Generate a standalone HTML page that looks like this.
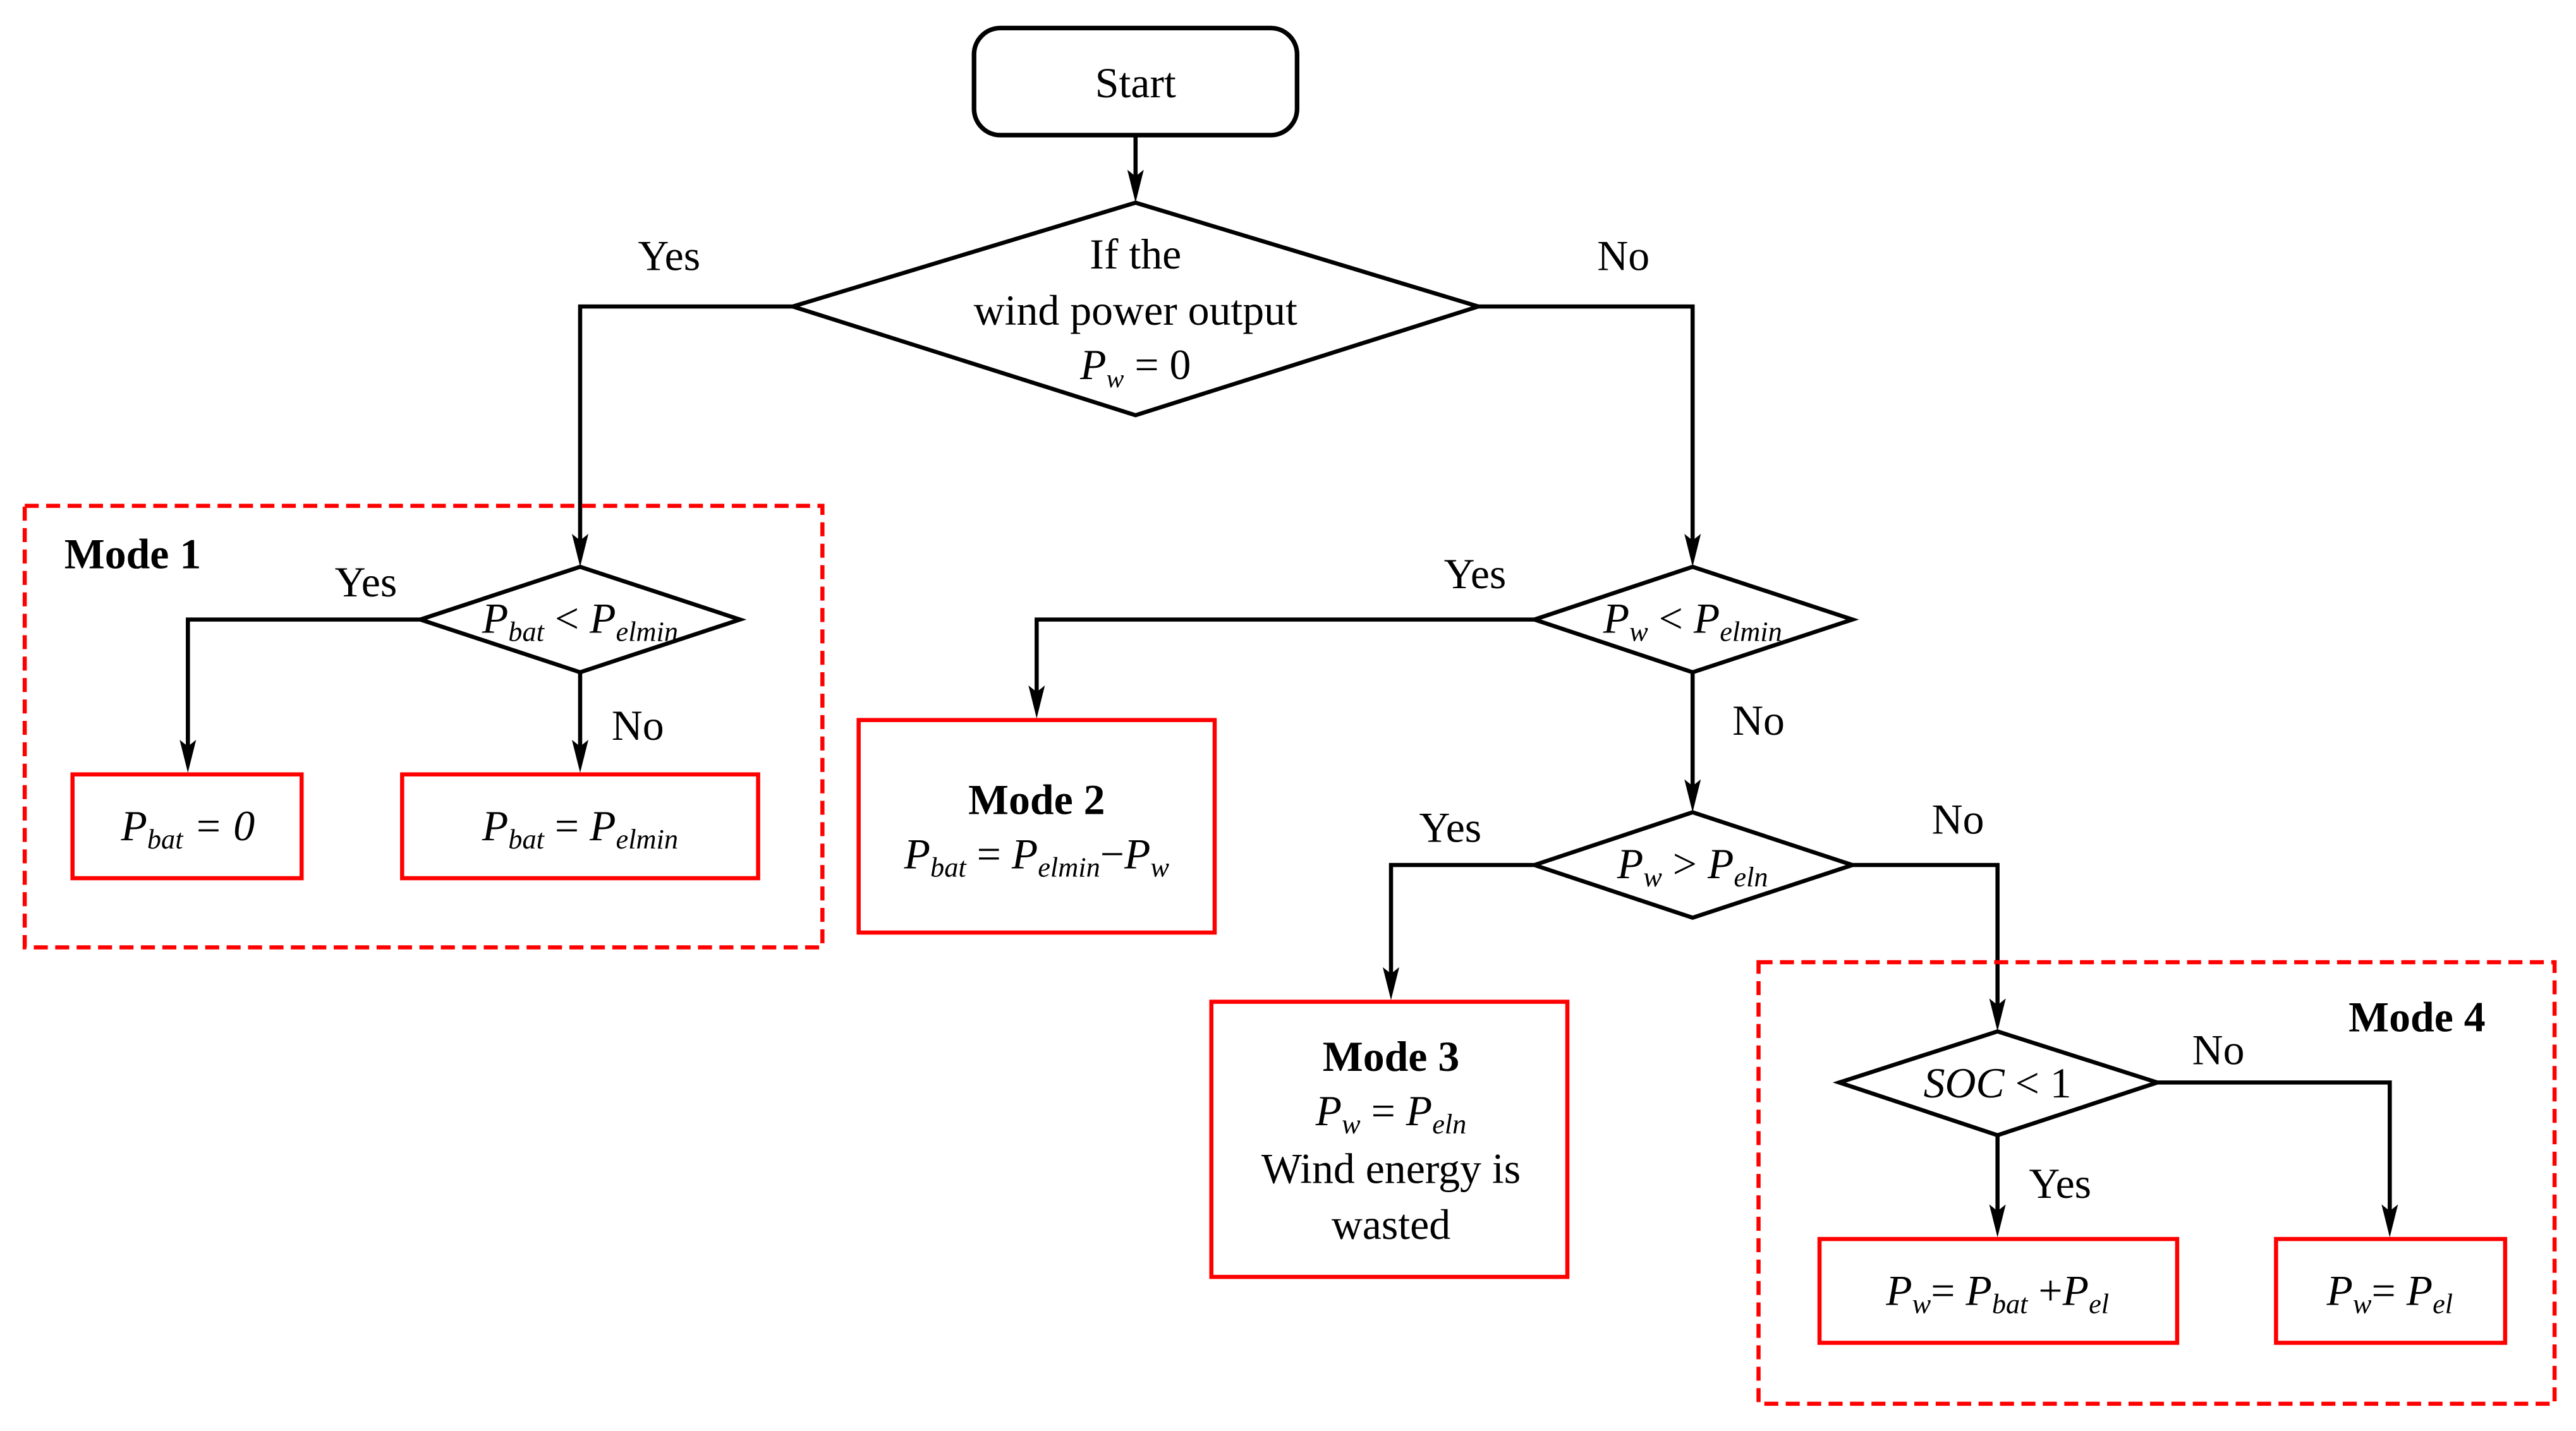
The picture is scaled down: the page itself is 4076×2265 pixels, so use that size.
<!DOCTYPE html>
<html><head><meta charset="utf-8"><style>
html,body{margin:0;padding:0;background:#fff;}
svg{display:block;}
text{font-family:"Liberation Serif","DejaVu Serif",serif;fill:#000;}
.m{font-style:italic;}
</style></head><body>
<svg width="4076" height="2265" viewBox="0 0 1563 868.5" xmlns="http://www.w3.org/2000/svg" font-family="Liberation Serif, DejaVu Serif, serif">
<g fill="none" stroke="#000" stroke-width="2.5">
<rect x="591" y="17" width="196" height="65" rx="16" ry="16" stroke-width="2.8"/>
<line x1="689" y1="82" x2="689" y2="112"/>
<polygon points="481,186 689,123 897,186 689,252"/>
<polyline points="481,186 352,186 352,333"/>
<polyline points="897,186 1027,186 1027,333"/>
<polygon points="255,376 352,344 449,376 352,408"/>
<polyline points="255,376 114,376 114,458"/>
<line x1="352" y1="408" x2="352" y2="458"/>
<polygon points="931,376 1027,344 1124,376 1027,408"/>
<polyline points="931,376 629,376 629,425"/>
<line x1="1027" y1="408" x2="1027" y2="482"/>
<polygon points="931,525 1027,493 1124,525 1027,557"/>
<polyline points="931,525 844,525 844,596"/>
<polyline points="1124,525 1212,525 1212,615"/>
<polygon points="1116,657 1212,626 1309,657 1212,689"/>
<polyline points="1309,657 1450,657 1450,740"/>
<line x1="1212" y1="689" x2="1212" y2="740"/>
</g>
<g fill="#000">
<path d="M684,103 L689,107 L694,103 L689,123 Z"/>
<path d="M347,324 L352,328 L357,324 L352,344 Z"/>
<path d="M1022,324 L1027,328 L1032,324 L1027,344 Z"/>
<path d="M109,449 L114,453 L119,449 L114,469 Z"/>
<path d="M347,449 L352,453 L357,449 L352,469 Z"/>
<path d="M624,416 L629,420 L634,416 L629,436 Z"/>
<path d="M1022,473 L1027,477 L1032,473 L1027,493 Z"/>
<path d="M839,587 L844,591 L849,587 L844,607 Z"/>
<path d="M1207,606 L1212,610 L1217,606 L1212,626 Z"/>
<path d="M1445,731 L1450,735 L1455,731 L1450,751 Z"/>
<path d="M1207,731 L1212,735 L1217,731 L1212,751 Z"/>
</g>
<g fill="none" stroke="#f00" stroke-width="2.5">
<rect x="15" y="307" width="484" height="268" stroke-dasharray="8.5,4.5"/>
<rect x="1067" y="584" width="483" height="268" stroke-dasharray="8.5,4.5"/>
<rect x="44" y="470" width="139" height="63"/>
<rect x="244" y="470" width="216" height="63"/>
<rect x="521" y="437" width="216" height="129"/>
<rect x="735" y="608" width="216" height="167"/>
<rect x="1104" y="752" width="217" height="63"/>
<rect x="1381" y="752" width="139" height="63"/>
</g>
<g font-size="26" text-anchor="middle">
<text x="689" y="59">Start</text>
<text x="689" y="163">If the</text>
<text x="689" y="197">wind power output</text>
<text x="689" y="230"><tspan class="m">P</tspan><tspan class="m" font-size="16" dy="5">w</tspan><tspan dy="-5"> = 0</tspan></text>
<text x="406" y="164">Yes</text>
<text x="985" y="164">No</text>
<text x="222" y="362">Yes</text>
<text x="387" y="449">No</text>
<text x="895" y="357">Yes</text>
<text x="1067" y="446">No</text>
<text x="880" y="511">Yes</text>
<text x="1188" y="506">No</text>
<text x="1346" y="646">No</text>
<text x="1250" y="727">Yes</text>
<text x="352" y="384" class="m"><tspan>P</tspan><tspan font-size="17" dy="5">bat</tspan><tspan dy="-5" font-style="normal"> &lt; </tspan><tspan>P</tspan><tspan font-size="17" dy="5">elmin</tspan></text>
<text x="1027" y="384" class="m"><tspan>P</tspan><tspan font-size="17" dy="5">w</tspan><tspan dy="-5" font-style="normal"> &lt; </tspan><tspan>P</tspan><tspan font-size="17" dy="5">elmin</tspan></text>
<text x="1027" y="533" class="m"><tspan>P</tspan><tspan font-size="17" dy="5">w</tspan><tspan dy="-5" font-style="normal"> &gt; </tspan><tspan>P</tspan><tspan font-size="17" dy="5">eln</tspan></text>
<text x="1212" y="666"><tspan class="m">SOC</tspan> &lt; 1</text>
<text x="114" y="510" class="m"><tspan>P</tspan><tspan font-size="17" dy="5">bat</tspan><tspan dy="-5"> = 0</tspan></text>
<text x="352" y="510" class="m"><tspan>P</tspan><tspan font-size="17" dy="5">bat</tspan><tspan dy="-5" font-style="normal"> = </tspan><tspan>P</tspan><tspan font-size="17" dy="5">elmin</tspan></text>
<text x="629" y="494" font-weight="bold">Mode 2</text>
<text x="629" y="527" class="m"><tspan>P</tspan><tspan font-size="17" dy="5">bat</tspan><tspan dy="-5" font-style="normal"> = </tspan><tspan>P</tspan><tspan font-size="17" dy="5">elmin</tspan><tspan dy="-5" font-style="normal">−</tspan><tspan>P</tspan><tspan font-size="17" dy="5">w</tspan></text>
<text x="844" y="650" font-weight="bold">Mode 3</text>
<text x="844" y="683" class="m"><tspan>P</tspan><tspan font-size="17" dy="5">w</tspan><tspan dy="-5" font-style="normal"> = </tspan><tspan>P</tspan><tspan font-size="17" dy="5">eln</tspan></text>
<text x="844" y="718">Wind energy is</text>
<text x="844" y="752">wasted</text>
<text x="1212" y="792" class="m"><tspan>P</tspan><tspan font-size="17" dy="5">w</tspan><tspan dy="-5" font-style="normal">= </tspan><tspan>P</tspan><tspan font-size="17" dy="5">bat</tspan><tspan dy="-5" font-style="normal"> +</tspan><tspan>P</tspan><tspan font-size="17" dy="5">el</tspan></text>
<text x="1450" y="792" class="m"><tspan>P</tspan><tspan font-size="17" dy="5">w</tspan><tspan dy="-5" font-style="normal">= </tspan><tspan>P</tspan><tspan font-size="17" dy="5">el</tspan></text>
</g>
<text x="39" y="345" font-size="26" font-weight="bold">Mode 1</text>
<text x="1425" y="626" font-size="26" font-weight="bold">Mode 4</text>
</svg>
</body></html>
